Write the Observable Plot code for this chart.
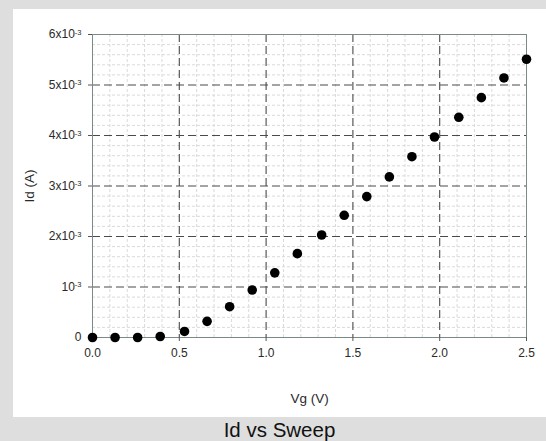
<!DOCTYPE html>
<html>
<head>
<meta charset="utf-8">
<script src="https://cdn.jsdelivr.net/npm/d3@7"></script>
<script src="https://cdn.jsdelivr.net/npm/@observablehq/plot@0.6"></script>
<style>
  html, body { margin: 0; padding: 0; }
  body { width: 546px; height: 441px; background: #dedede; position: relative; overflow: hidden; font-family: "Liberation Sans", Arial, sans-serif; }
  #panel { position: absolute; left: 13px; top: 9px; width: 533px; height: 408px; background: #fff; }
  #title { position: absolute; left: 13px; top: 419px; width: 533px; text-align: center; font-size: 20.5px; line-height: 22px; color: #111; }
</style>
</head>
<body>
<div id="panel"></div>
<div id="title">Id vs Sweep</div>
<script>
// Data
const vg = [0, 0.13, 0.26, 0.39, 0.53, 0.66, 0.79, 0.92, 1.05, 1.18, 1.32, 1.45, 1.58, 1.71, 1.84, 1.97, 2.11, 2.24, 2.37, 2.50];
const idA = [0, 0, 0, 0.00002, 0.00012, 0.00032, 0.00061, 0.00094, 0.00128, 0.00166, 0.00203, 0.00242, 0.00279, 0.00318, 0.00358, 0.00397, 0.00436, 0.00475, 0.00514, 0.00551];

// Ticks
const xTicks = [0, 0.5, 1.0, 1.5, 2.0, 2.5];
const xTickLabels = ["0.0", "0.5", "1.0", "1.5", "2.0", "2.5"];
const xMajorGrid = [0.5, 1.0, 1.5, 2.0];
const xMinorGrid = [0.1, 0.2, 0.3, 0.4, 0.6, 0.7, 0.8, 0.9, 1.1, 1.2, 1.3, 1.4, 1.6, 1.7, 1.8, 1.9, 2.1, 2.2, 2.3, 2.4];
const yTicks = [0, 0.001, 0.002, 0.003, 0.004, 0.005, 0.006];
const yTickBase = ["0", "10", "2x10", "3x10", "4x10", "5x10", "6x10"];
const yTickExp = ["", "-3", "-3", "-3", "-3", "-3", "-3"];
const yMajorGrid = [0.001, 0.002, 0.003, 0.004, 0.005];
const yMinorGrid = [0.0002, 0.0004, 0.0006, 0.0008, 0.0012, 0.0014, 0.0016, 0.0018, 0.0022, 0.0024, 0.0026, 0.0028,
  0.0032, 0.0034, 0.0036, 0.0038, 0.0042, 0.0044, 0.0046, 0.0048, 0.0052, 0.0054, 0.0056, 0.0058];

const data = vg.map((v, i) => ({vg: v, id: idA[i]}));

const plot = Plot.plot({
  width: 533,
  height: 408,
  marginLeft: 79,
  marginRight: 20,
  marginTop: 25,
  marginBottom: 80,
  style: {background: "transparent", fontFamily: "Liberation Sans, Arial, sans-serif", fontSize: "12px", color: "#2a2a2a"},
  x: {domain: [0, 2.5]},
  y: {domain: [0, 0.006]},
  marks: [
    Plot.gridX(xMinorGrid, {stroke: "#dadada", strokeOpacity: 1, strokeDasharray: "3,2"}),
    Plot.gridY(yMinorGrid, {stroke: "#dadada", strokeOpacity: 1, strokeDasharray: "3,2"}),
    Plot.gridX(xMajorGrid, {stroke: "#4a4a4a", strokeOpacity: 1, strokeDasharray: "8,4", strokeWidth: 1.1}),
    Plot.gridY(yMajorGrid, {stroke: "#4a4a4a", strokeOpacity: 1, strokeDasharray: "8,4", strokeWidth: 1.1}),
    Plot.frame({stroke: "#7a8a88"}),
    Plot.axisX(xTicks, {tickSize: 4, tickPadding: 7, stroke: "#555", tickFormat: (d) => xTickLabels[xTicks.indexOf(d)], label: "Vg (V)", labelAnchor: "center", labelArrow: "none", labelOffset: 65}),
    Plot.axisY(yTicks, {tickSize: 4, tickPadding: 7, stroke: "#555", tickFormat: (d) => String(yTicks.indexOf(d)), label: "Id (A)", labelAnchor: "center", labelArrow: "none", labelOffset: 68}),
    Plot.dot(data, {x: "vg", y: "id", r: 4.8, fill: "#000", stroke: "none"})
  ]
});

// Superscript exponents on y tick labels
d3.select(plot).selectAll('g[aria-label="y-axis tick label"] text').each(function () {
  const t = d3.select(this);
  const i = +t.text();
  t.text(null);
  t.append("tspan").text(yTickBase[i]);
  if (yTickExp[i]) t.append("tspan").attr("dy", "-0.45em").attr("font-size", "7.5px").text(yTickExp[i]);
});
d3.select(plot).selectAll('g[aria-label="x-axis label"] text, g[aria-label="y-axis label"] text').attr("font-size", "13.5px");

document.getElementById("panel").appendChild(plot);
</script>
</body>
</html>
